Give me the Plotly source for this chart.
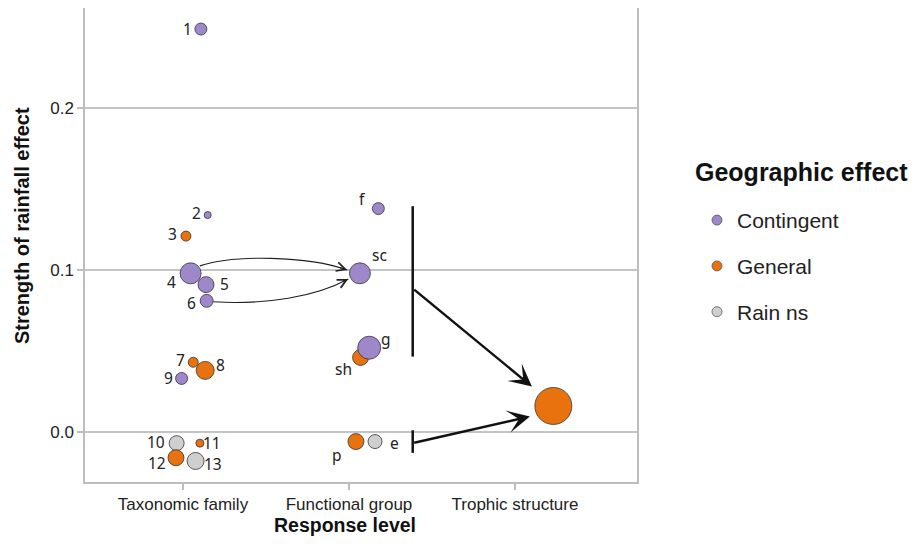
import plotly.graph_objects as go

# ---------------- data ----------------
levels = ["Taxonomic family", "Functional group", "Trophic structure"]
level_pos = [1, 2, 3]

# Taxonomic family (numbered)
tax_labels = ["1", "2", "3", "4", "5", "6", "7", "8", "9", "10", "11", "12", "13"]
tax_x = [1.108, 1.149, 1.018, 1.046, 1.139, 1.143, 1.062, 1.134, 0.992, 0.962, 1.102, 0.958, 1.076]
tax_y = [0.249, 0.134, 0.121, 0.098, 0.091, 0.081, 0.043, 0.038, 0.033, -0.007, -0.007, -0.016, -0.018]
tax_group = ["Contingent", "Contingent", "General", "Contingent", "Contingent", "Contingent",
             "General", "General", "Contingent", "Rain ns", "General", "General", "Rain ns"]
tax_weight = [12, 7, 10, 21, 16, 13, 10, 18, 12, 15, 8, 16, 17]

# Functional group (lettered)
fun_labels = ["f", "sc", "g", "sh", "p", "e"]
fun_x = [2.177, 2.066, 2.122, 2.070, 2.042, 2.157]
fun_y = [0.138, 0.098, 0.052, 0.046, -0.006, -0.006]
fun_group = ["Contingent", "Contingent", "Contingent", "General", "General", "Rain ns"]
fun_weight = [12, 21, 23, 16, 16, 14]

# Trophic structure
tro_labels = [""]
tro_x = [3.231]
tro_y = [0.016]
tro_group = ["General"]
tro_weight = [37]

groups = ["Contingent", "General", "Rain ns"]

# ---------------- styles ----------------
colors = {"Contingent": "#9f88c9", "General": "#e8730e", "Rain ns": "#cfcfcf"}
# label offsets from point centre, in pixels (dx right, dy down)
label_off = {
    "1": (-13, 0), "2": (-11, -2), "3": (-13, -2), "4": (-19, 9), "5": (18, -1),
    "6": (-15, 2), "7": (-13, -2), "8": (15, -5), "9": (-13, 0), "10": (-21, -1),
    "11": (12.5, 0), "12": (-18.5, 5), "13": (17, 3),
    "f": (-16, -10), "sc": (20, -18), "g": (17, -9), "sh": (-17, 12), "p": (-19, 13),
    "e": (19, 1),
}

all_labels = tax_labels + fun_labels + tro_labels
all_x = tax_x + fun_x + tro_x
all_y = tax_y + fun_y + tro_y
all_group = tax_group + fun_group + tro_group
all_weight = tax_weight + fun_weight + tro_weight

fig = go.Figure()

# draw order: grey, orange, purple
for g in ["Rain ns", "General", "Contingent"]:
    idx = [i for i, gg in enumerate(all_group) if gg == g]
    fig.add_trace(go.Scatter(
        x=[all_x[i] for i in idx], y=[all_y[i] for i in idx],
        mode="markers",
        marker=dict(size=[all_weight[i] for i in idx], sizemode="diameter",
                    color=colors[g], line=dict(color="#333", width=0.8), opacity=1),
        showlegend=False, hoverinfo="skip", cliponaxis=False,
    ))

for lab, x, y in zip(all_labels, all_x, all_y):
    if not lab:
        continue
    dx, dy = label_off[lab]
    fig.add_annotation(x=x, y=y, xref="x", yref="y", text=lab, showarrow=False,
                       xanchor="center", yanchor="middle", xshift=dx, yshift=-dy,
                       font=dict(family="Noto Sans", size=15.5, color="#222"))

# legend entries
for k, g in enumerate(groups):
    fig.add_trace(go.Scatter(
        x=[None], y=[None], mode="markers", name=g, legendgroup=g,
        marker=dict(size=10, color=colors[g], line=dict(color="#555", width=0.8)),
    ))

# ---- curved arrows (taxonomic -> functional) ----
def bez_pt(p0, p1, p2, p3, t):
    return tuple((1 - t) ** 3 * a + 3 * (1 - t) ** 2 * t * b + 3 * (1 - t) * t ** 2 * c + t ** 3 * d
                 for a, b, c, d in zip(p0, p1, p2, p3))

sc_i = fun_labels.index("sc")
p4 = (tax_x[3] + 0.056, tax_y[3] + 0.0046)
p6 = (tax_x[5] + 0.040, tax_y[5] - 0.0006)
e1 = (fun_x[sc_i] - 0.076, fun_y[sc_i] + 0.002)
e2 = (fun_x[sc_i] - 0.070, fun_y[sc_i] - 0.0035)

curves = [
    (p4, (1.30, 0.1095), (1.75, 0.109), e1),
    (p6, (1.50, 0.0785), (1.80, 0.0835), e2),
]
for c0, c1, c2, c3 in curves:
    fig.add_shape(type="path",
                  path=f"M {c0[0]},{c0[1]} C {c1[0]},{c1[1]} {c2[0]},{c2[1]} {c3[0]},{c3[1]}",
                  xref="x", yref="y", line=dict(color="#222", width=1.1))
    tail = bez_pt(c0, c1, c2, c3, 0.93)
    fig.add_annotation(x=c3[0], y=c3[1], ax=tail[0], ay=tail[1], xref="x", yref="y",
                       axref="x", ayref="y", text="", showarrow=True, arrowhead=5,
                       arrowsize=1.6, arrowwidth=1.1, arrowcolor="#222", standoff=0)

# ---- brackets and arrows (functional -> trophic) ----
bx = 2.384
fig.add_shape(type="line", x0=bx, x1=bx, y0=0.1395, y1=0.0465, xref="x", yref="y",
              line=dict(color="#111", width=2.5))
fig.add_shape(type="line", x0=bx, x1=bx, y0=0.001, y1=-0.013, xref="x", yref="y",
              line=dict(color="#111", width=2.5))
fig.add_annotation(x=3.102, y=0.028, ax=bx, ay=0.0887, xref="x", yref="y", axref="x", ayref="y",
                   text="", showarrow=True, arrowhead=3, arrowsize=1.5, arrowwidth=2.5,
                   arrowcolor="#111", standoff=0)
fig.add_annotation(x=3.09, y=0.0095, ax=bx, ay=-0.007, xref="x", yref="y", axref="x", ayref="y",
                   text="", showarrow=True, arrowhead=3, arrowsize=1.5, arrowwidth=2.5,
                   arrowcolor="#111", standoff=0)

# ---- axis titles and legend title as annotations ----
fig.add_annotation(x=-0.1141, y=0.540, xref="paper", yref="paper", showarrow=False,
                   text="<b>Strength of rainfall effect</b>", textangle=-90,
                   xanchor="center", yanchor="middle",
                   font=dict(size=20, color="#111"))
fig.add_annotation(x=0.4719, y=-0.0907, xref="paper", yref="paper", showarrow=False,
                   text="<b>Response level</b>", xanchor="center", yanchor="middle",
                   font=dict(size=19.5, color="#111"))
fig.add_annotation(x=1.1014, y=0.654, xref="paper", yref="paper", showarrow=False,
                   text="<b>Geographic effect</b>", xanchor="left", yanchor="middle",
                   font=dict(size=25, color="#111"))

fig.update_layout(
    width=910, height=538,
    margin=dict(l=77, r=281, t=0, b=64, autoexpand=False),
    paper_bgcolor="white", plot_bgcolor="white",
    font=dict(family="Liberation Sans, Arial", size=16, color="#222"),
    xaxis=dict(
        range=[0.41, 3.735], tickvals=level_pos, ticktext=levels, automargin=False,
        showgrid=False, zeroline=False, showline=True, mirror=True,
        linecolor="#bdbdbd", linewidth=1.5, ticks="outside", ticklen=6,
        tickwidth=1.5, tickcolor="#bdbdbd",
        tickfont=dict(size=17, color="#222"),
    ),
    yaxis=dict(
        range=[-0.031, 0.262], tickvals=[0, 0.1, 0.2], ticktext=["0.0", "0.1", "0.2"],
        automargin=False,
        showgrid=True, gridcolor="#c4c4c4", gridwidth=2, zeroline=False,
        showline=True, mirror=True, linecolor="#bdbdbd", linewidth=1.5,
        ticks="outside", ticklen=6, tickwidth=1.5, tickcolor="#bdbdbd",
        tickfont=dict(size=17, color="#222"),
    ),
    legend=dict(
        x=1.1087, xanchor="left", y=0.595, yanchor="top",
        font=dict(size=21, color="#222"), tracegroupgap=15.5,
        bgcolor="rgba(0,0,0,0)",
    ),
)

fig.write_html("out.html")
